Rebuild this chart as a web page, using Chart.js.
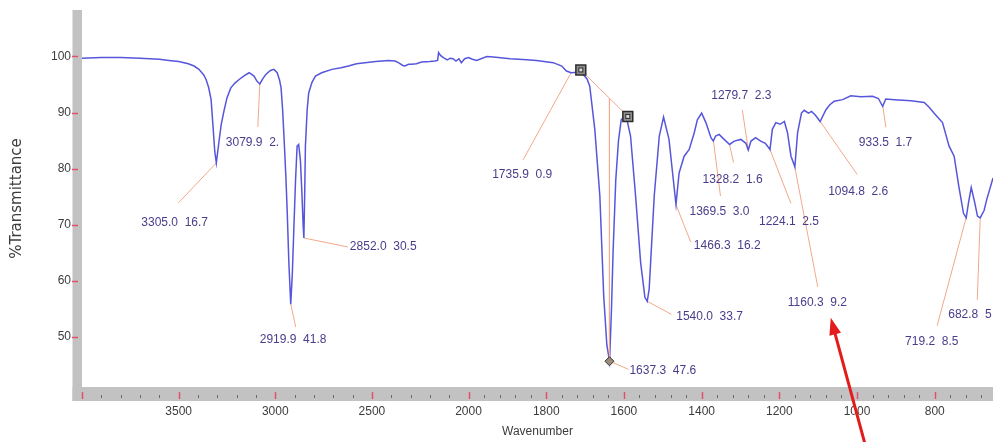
<!DOCTYPE html>
<html>
<head>
<meta charset="utf-8">
<title>IR spectrum</title>
<script src="https://cdn.jsdelivr.net/npm/chart.js@4.4.1/dist/chart.umd.min.js"></script>
<style>
  html, body { margin: 0; padding: 0; background: #fff; }
  #wrap { width: 996px; height: 442px; }
</style>
</head>
<body>
<div id="wrap"><canvas id="ir" width="996" height="442"></canvas></div>
<script>
// spectrum, wavenumber (cm-1) high -> low
var waves = [
    4000, 3900, 3800, 3700, 3650, 3600, 3550, 3500, 3450, 3420,
    3395, 3370, 3358, 3345, 3332, 3321, 3313, 3305, 3292, 3280,
    3264, 3250, 3230, 3210, 3187, 3160, 3135, 3110, 3095, 3080,
    3065, 3049, 3025, 3007, 2990, 2978, 2970, 2962, 2955, 2945,
    2938, 2930, 2920, 2912, 2904, 2895, 2887, 2879, 2870, 2862,
    2856, 2852, 2848, 2844, 2835, 2827, 2810, 2792, 2760, 2707,
    2660, 2621, 2580, 2535, 2480, 2415, 2380, 2363, 2340, 2329,
    2310, 2295, 2270, 2243, 2200, 2174, 2160, 2155, 2145, 2130,
    2110, 2095, 2080, 2065, 2050, 2037, 2020, 2000, 1990, 1979,
    1953, 1936, 1893, 1850, 1825, 1782, 1760, 1748, 1736, 1718,
    1705, 1695, 1688, 1675, 1662, 1652, 1644, 1637, 1632, 1628,
    1621, 1614, 1607, 1595, 1583, 1570, 1557, 1546, 1540, 1535,
    1522, 1509, 1498, 1484, 1476, 1466, 1458, 1445, 1432, 1419,
    1411, 1400, 1389, 1376, 1370, 1364, 1355, 1342, 1328, 1316,
    1299, 1286, 1280, 1273, 1261, 1248, 1236, 1224, 1218, 1209,
    1198, 1187, 1179, 1170, 1160, 1153, 1143, 1136, 1125, 1117,
    1107, 1095, 1080, 1070, 1059, 1037, 1016, 990, 960, 945,
    934, 926, 904, 861, 827, 815, 802, 780, 763, 750,
    738, 726, 719, 713, 706, 697, 690, 683, 673, 666,
    650
];
var trans = [
    99.7, 99.8, 99.8, 99.7, 99.6, 99.5, 99.3, 99.1, 98.7, 98.3,
    97.7, 96.7, 95.9, 94.5, 92.3, 87.0, 83.0, 81.0, 84.6, 87.8,
    90.5, 92.6, 94.4, 95.2, 95.9, 96.6, 97.1, 96.5, 95.6, 95.1,
    96.0, 96.8, 97.5, 97.7, 97.1, 95.8, 94.4, 90.5, 85.8, 78.5,
    72.1, 63.5, 55.8, 61.0, 69.1, 78.0, 84.0, 84.3, 81.5, 75.5,
    70.0, 67.6, 75.0, 84.0, 90.5, 93.5, 95.4, 96.5, 97.1, 97.7,
    98.0, 98.3, 98.7, 98.9, 99.1, 99.3, 99.2, 98.9, 98.4, 98.3,
    98.6, 98.6, 98.7, 99.0, 99.1, 99.2, 99.3, 100.7, 100.2, 99.8,
    99.4, 99.7, 99.6, 99.2, 99.6, 98.9, 99.6, 99.8, 99.5, 99.3,
    100.0, 99.9, 99.6, 99.4, 99.3, 98.9, 98.3, 97.4, 97.1, 97.2,
    96.8, 96.0, 94.7, 87.0, 75.1, 57.2, 48.5, 45.6, 55.0, 65.0,
    78.0, 85.0, 88.7, 89.6, 85.8, 75.1, 63.2, 57.0, 56.3, 58.5,
    75.1, 85.8, 89.2, 85.2, 80.0, 73.6, 79.2, 82.2, 83.4, 86.4,
    88.7, 89.9, 88.2, 85.5, 84.9, 85.8, 86.1, 85.2, 84.3, 84.9,
    85.2, 84.5, 83.3, 84.9, 85.5, 84.9, 84.5, 83.4, 87.0, 88.2,
    87.9, 88.4, 86.4, 82.2, 80.3, 86.4, 89.9, 90.4, 89.9, 90.2,
    89.5, 88.4, 90.5, 91.4, 92.0, 92.3, 93.0, 92.8, 92.9, 92.5,
    91.1, 92.4, 92.3, 92.1, 91.8, 91.0, 89.9, 88.2, 84.0, 82.2,
    76.8, 72.0, 71.2, 73.9, 76.6, 73.9, 71.5, 71.2, 72.5, 74.5,
    78.3
];

var xTicks = [3500, 3000, 2500, 2000, 1800, 1600, 1400, 1200, 1000, 800];
var yTicks = [50, 60, 70, 80, 90, 100];

// picked peaks: wavenumber and the number printed after it
var peakWaves = [3305.0, 3079.9, 2919.9, 2852.0, 1735.9, 1637.3, 1540.0, 1466.3, 1369.5,
                 1328.2, 1279.7, 1224.1, 1160.3, 1094.8, 933.5, 719.2, 682.8];
var peakValues = ['16.7', '2.', '41.8', '30.5', '0.9', '47.6', '33.7', '16.2', '3.0',
                  '1.6', '2.3', '2.5', '9.2', '2.6', '1.7', '8.5', '5'];

// baseline drawn under the 1637 band
var baseWaves = [1711, 1590];
var baseTrans = [97.6, 89.3];

// label layout, px from the peak point: [text dx, text dy, leader end dx, leader end dy]
var labelLayout = [
    [-75, 60, -38, 40], [-34, 59, -2, 43], [-31, 36, 5, 23], [46, 9, 44, 9],
    [-79, 102, -48, 87], [20, 9, 19, 8], [29, 15, 24, 13], [18, 41, 15, 38],
    [-24, 71, 7, 55], [-27, 35, 4, 18], [-37, -54, -6, -40], [-11, 72, 21, 54],
    [-7, 136, 23, 120], [8, 70, 37, 53], [-24, 36, 3, 21], [-61, 124, -29, 108],
    [-32, 97, -3, 82]
];

var leaderColor = '#f2a88a';
var noteColor = '#4b3c8a';
var axisText = '#3c3c3c';

function hasFont(name) {
    var c = document.createElement('canvas').getContext('2d');
    c.font = '20px monospace';
    var a = c.measureText('mmmwwlli1234').width;
    c.font = '20px "' + name + '", monospace';
    return c.measureText('mmmwwlli1234').width !== a;
}
var narrow = hasFont('Liberation Sans Narrow');
var plainFamily = '"Liberation Sans", Arial, sans-serif';
var tickFont = narrow ? { family: '"Liberation Sans Narrow"', size: 15 } : { family: plainFamily, size: 12 };
var yTickFont = narrow ? { family: '"Liberation Sans Narrow"', size: 14 } : { family: plainFamily, size: 12 };
var noteFont = narrow ? '15px "Liberation Sans Narrow"' : '12px ' + plainFamily;

function nearestIndex(w) {
    var best = 0;
    for (var i = 1; i < waves.length; i++) {
        if (Math.abs(waves[i] - w) < Math.abs(waves[best] - w)) best = i;
    }
    return best;
}

// wavenumber axis with the usual change of scale at 2000
class BrokenScale extends Chart.LinearScale {
    getPixelForValue(v) {
        var b = this.options.breakAt, f = this.options.breakFrac;
        var frac = v >= b ? (this.max - v) / (this.max - b) * f
                          : f + (b - v) / (b - this.min) * (1 - f);
        return this.left + frac * (this.right - this.left);
    }
    getValueForPixel(p) {
        var b = this.options.breakAt, f = this.options.breakFrac;
        var frac = (p - this.left) / (this.right - this.left);
        return frac <= f ? this.max - frac / f * (this.max - b)
                         : b - (frac - f) / (1 - f) * (b - this.min);
    }
}
BrokenScale.id = 'broken';
BrokenScale.defaults = { breakAt: 2000, breakFrac: 0.4243 };
Chart.register(BrokenScale);

var minorTicks = [];
for (var w = 3900; w > 2000; w -= 100) if (w % 500) minorTicks.push(w);
for (var w2 = 1960; w2 > 650; w2 -= 40) if (w2 % 200) minorTicks.push(w2);

function noPadding(s) {
    s.paddingLeft = 0; s.paddingRight = 0; s.paddingTop = 0; s.paddingBottom = 0;
}

var irDecor = {
    id: 'irDecor',
    beforeDraw: function (chart) {
        var c = chart.ctx, a = chart.chartArea, xs = chart.scales.x, ys = chart.scales.y;
        c.save();
        c.fillStyle = '#c2c2c2';
        c.fillRect(a.left - 9.5, a.top, 9.5, a.bottom - a.top + 14);
        c.fillRect(a.left - 9.5, a.bottom, a.right - a.left + 9.5, 14);

        c.strokeStyle = '#e0506e';
        c.lineWidth = 1.5;
        yTicks.forEach(function (v) {
            var py = Math.round(ys.getPixelForValue(v)) + 0.5;
            c.beginPath(); c.moveTo(a.left - 10, py); c.lineTo(a.left - 4, py); c.stroke();
        });
        [4000].concat(xTicks).forEach(function (v) {
            var px = Math.round(xs.getPixelForValue(v)) + 0.5;
            c.beginPath(); c.moveTo(px, a.bottom + 5); c.lineTo(px, a.bottom + 12); c.stroke();
        });
        c.strokeStyle = '#6a6a6a';
        c.lineWidth = 1;
        minorTicks.forEach(function (v) {
            var px = Math.round(xs.getPixelForValue(v)) + 0.5;
            c.beginPath(); c.moveTo(px, a.bottom + 8); c.lineTo(px, a.bottom + 11); c.stroke();
        });
        c.restore();
    },
    beforeDatasetsDraw: function (chart) {
        var c = chart.ctx, xs = chart.scales.x, ys = chart.scales.y;
        c.save();
        c.strokeStyle = leaderColor;
        c.lineWidth = 1;
        peakWaves.forEach(function (w, i) {
            var ax = xs.getPixelForValue(w), ay = ys.getPixelForValue(trans[nearestIndex(w)]);
            var L = labelLayout[i];
            c.beginPath(); c.moveTo(ax, ay); c.lineTo(ax + L[2], ay + L[3]); c.stroke();
        });
        c.restore();
    },
    afterDatasetsDraw: function (chart) {
        var c = chart.ctx;
        c.save();
        chart.getDatasetMeta(1).data.forEach(function (pt) {
            c.fillStyle = '#dcdcdc';
            c.strokeStyle = '#2c2c2c';
            c.lineWidth = 1;
            c.fillRect(pt.x - 2, pt.y - 2, 4, 4);
            c.strokeRect(pt.x - 2, pt.y - 2, 4, 4);
        });
        c.restore();
    },
    afterDraw: function (chart) {
        var c = chart.ctx, xs = chart.scales.x, ys = chart.scales.y;
        c.save();
        c.font = noteFont;
        c.fillStyle = noteColor;
        c.textAlign = 'left';
        c.textBaseline = 'middle';
        var arrowFrom = null;
        peakWaves.forEach(function (w, i) {
            var ax = xs.getPixelForValue(w), ay = ys.getPixelForValue(trans[nearestIndex(w)]);
            var L = labelLayout[i];
            c.fillText(w.toFixed(1) + '  ' + peakValues[i], ax + L[0], ay + L[1]);
            if (w === 1160.3) arrowFrom = [ax, ay];
        });

        // red arrow pointing at the 1160.3 label
        var tip = [arrowFrom[0] + 36, arrowFrom[1] + 151];
        var tail = [arrowFrom[0] + 71, arrowFrom[1] + 280];
        var ang = Math.atan2(tip[1] - tail[1], tip[0] - tail[0]);
        c.strokeStyle = '#e31b1b';
        c.fillStyle = '#e31b1b';
        c.lineWidth = 3;
        c.beginPath();
        c.moveTo(tail[0], tail[1]);
        c.lineTo(tip[0] - 12 * Math.cos(ang), tip[1] - 12 * Math.sin(ang));
        c.stroke();
        c.beginPath();
        c.moveTo(tip[0], tip[1]);
        c.lineTo(tip[0] - 17 * Math.cos(ang) + 6 * Math.sin(ang), tip[1] - 17 * Math.sin(ang) - 6 * Math.cos(ang));
        c.lineTo(tip[0] - 17 * Math.cos(ang) - 6 * Math.sin(ang), tip[1] - 17 * Math.sin(ang) + 6 * Math.cos(ang));
        c.closePath();
        c.fill();
        c.restore();
    }
};

var spectrum = waves.map(function (w, i) { return { x: w, y: trans[i] }; });
var baseline = baseWaves.map(function (w, i) { return { x: w, y: baseTrans[i] }; });
var bandWave = peakWaves[5];
var baseAtBand = baseTrans[0] + (baseWaves[0] - bandWave) / (baseWaves[0] - baseWaves[1]) * (baseTrans[1] - baseTrans[0]);
var drop = [{ x: bandWave, y: baseAtBand }, { x: bandWave, y: trans[nearestIndex(bandWave)] }];

var ctx = document.getElementById('ir').getContext('2d');
window.irChart = new Chart(ctx, {
    type: 'line',
    data: {
        datasets: [{
            data: spectrum,
            borderColor: '#5656dc',
            borderWidth: 1.5,
            pointRadius: 0,
            tension: 0,
            fill: false,
            order: 2
        }, {
            data: baseline,
            borderColor: leaderColor,
            borderWidth: 1,
            pointStyle: 'rect',
            pointRadius: 7,
            pointBackgroundColor: '#8f8f8f',
            pointBorderColor: '#2c2c2c',
            pointBorderWidth: 1.5,
            order: 0
        }, {
            data: drop,
            borderColor: leaderColor,
            borderWidth: 1,
            pointStyle: 'rectRot',
            pointRadius: [0, 4.5],
            pointBackgroundColor: '#9c8c7c',
            pointBorderColor: '#333',
            pointBorderWidth: 1,
            order: 1
        }]
    },
    options: {
        responsive: false,
        animation: false,
        devicePixelRatio: 1,
        layout: { autoPadding: false, padding: { top: 10, right: 3, left: 0, bottom: 0 } },
        plugins: { legend: { display: false }, tooltip: { enabled: false } },
        scales: {
            x: {
                type: 'broken',
                min: 650,
                max: 4000,
                breakAt: 2000,
                breakFrac: 0.4243,
                afterBuildTicks: function (s) { s.ticks = xTicks.map(function (v) { return { value: v }; }); },
                afterFit: function (s) { s.height = 55; noPadding(s); },
                grid: { display: false, drawTicks: false },
                border: { display: false },
                ticks: {
                    padding: narrow ? 15 : 17,
                    autoSkip: false,
                    maxRotation: 0,
                    color: axisText,
                    font: tickFont,
                    callback: function (v) { return String(v); }
                },
                title: {
                    display: true,
                    text: 'Wavenumber',
                    color: axisText,
                    font: { family: plainFamily, size: 12 },
                    padding: { top: 0, bottom: 3 }
                }
            },
            y: {
                min: 41,
                max: 108.3,
                afterBuildTicks: function (s) { s.ticks = yTicks.map(function (v) { return { value: v }; }); },
                afterFit: function (s) { s.width = 82; noPadding(s); },
                grid: { display: false, drawTicks: false },
                border: { display: false },
                ticks: {
                    padding: 11,
                    color: axisText,
                    font: yTickFont,
                    callback: function (v) { return String(v); }
                },
                title: {
                    display: true,
                    text: '%Transmittance',
                    color: axisText,
                    font: { family: '"DejaVu Sans", sans-serif', size: 15 },
                    padding: { top: 8, bottom: 0 }
                }
            }
        }
    },
    plugins: [irDecor]
});
</script>
</body>
</html>
